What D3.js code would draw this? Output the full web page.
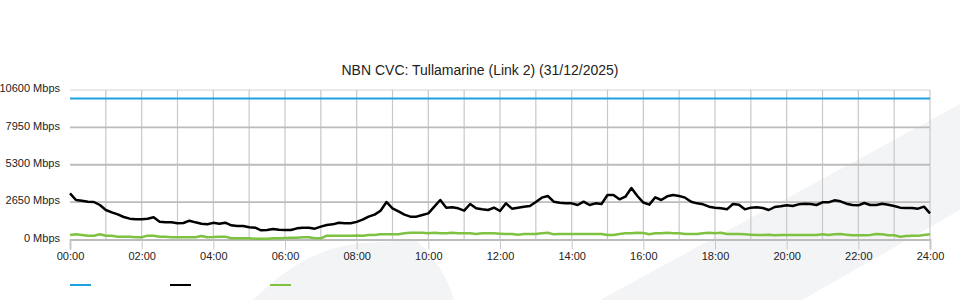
<!DOCTYPE html>
<html>
<head>
<meta charset="utf-8">
<script src="https://cdn.jsdelivr.net/npm/d3@7"></script>
<style>
    body { margin: 0; background: #fff; }
    text { font-family: "Liberation Sans", Arial, sans-serif; fill: #222; }
</style>
</head>
<body>
<div id="chart"></div>
<script>
////////////////////////////////////
//////////////data//////////////////
////////////////////////////////////
const title = 'NBN CVC: Tullamarine (Link 2) (31/12/2025)'

// minutes since midnight, every 10 minutes
const minutes = d3.range(0, 1441, 10)

// link capacity (blue)
const capacityMbps = 10000

// traffic (black), Mbps
const traffic = [
    3273, 2800, 2753, 2682, 2659, 2446, 2092, 1926, 1784, 1595, 1477, 1430, 1430, 1477, 1572, 1264, 1217, 1217, 1146, 1170, 1335, 1217, 1122, 1075, 1180,
    1122, 1193, 1004, 957, 957, 863, 839, 650, 674, 744, 697, 674, 674, 792, 839, 839, 768, 910, 1028, 1075, 1193, 1146, 1146, 1250,
    1406, 1619, 1761, 2044, 2659, 2210, 1997, 1761, 1619, 1619, 1737, 1855, 2328, 2800, 2257, 2281, 2210, 2044, 2517, 2210, 2139, 2092, 2257, 2020,
    2564, 2186, 2257, 2328, 2375, 2659, 2966, 3084, 2682, 2611, 2564, 2564, 2446, 2682, 2446, 2564, 2517, 3155, 3155, 2848, 3037, 3651, 3084, 2620,
    2470, 2990, 2800, 3061, 3155, 3084, 2966, 2682, 2564, 2493, 2328, 2257, 2210, 2139, 2517, 2470, 2139, 2257, 2281, 2233, 2092, 2304, 2352, 2423,
    2375, 2493, 2541, 2517, 2446, 2635, 2635, 2777, 2706, 2541, 2446, 2423, 2588, 2450, 2446, 2541, 2470, 2375, 2257, 2233, 2233, 2186, 2328, 1855
]

// second series (green), Mbps
const other = [
    320, 366, 319, 272, 272, 366, 272, 272, 201, 201, 201, 154, 154, 272, 272, 201, 201, 154, 154, 154, 154, 154, 248, 154, 170,
    201, 201, 83, 83, 83, 83, 59, 59, 59, 83, 83, 106, 130, 130, 154, 154, 83, 83, 272, 272, 272, 272, 272, 280,
    272, 319, 319, 366, 366, 366, 366, 437, 484, 484, 484, 437, 484, 437, 437, 484, 437, 437, 437, 390, 437, 437, 437, 410,
    390, 390, 343, 390, 390, 390, 437, 484, 366, 390, 390, 390, 390, 390, 390, 390, 390, 319, 319, 390, 437, 437, 484, 460,
    366, 437, 437, 484, 437, 437, 390, 390, 390, 437, 484, 437, 484, 390, 390, 390, 366, 343, 319, 319, 343, 296, 319, 319,
    319, 319, 319, 319, 319, 366, 319, 366, 390, 343, 296, 296, 296, 319, 390, 366, 296, 296, 201, 248, 272, 272, 319, 366
]

const yTicks = [0, 2650, 5300, 7950, 10600]
const xTicks = d3.range(0, 1441, 120)   // labelled every 2 hours
const hourGrid = d3.range(60, 1441, 60)  // grid every hour

const colors = { capacity: '#1fa1df', traffic: '#000000', other: '#7fc241' }

////////////////////////////////////
//////////////setup/////////////////
////////////////////////////////////
const svgWidth = 960
const svgHeight = 300

const margin = { left: 70, right: 30, top: 90, bottom: 60.5 }
const width = svgWidth - margin.left - margin.right
const height = svgHeight - margin.top - margin.bottom

const svg = d3.select('#chart')
    .append('svg')
    .attr('width', svgWidth)
    .attr('height', svgHeight)

// faint background watermark shapes
svg.append('path')
    .attr('d', 'M600,300 L960,104 L960,210 L802,300 Z')
    .attr('fill', '#f3f4f6')
svg.append('path')
    .attr('d', 'M253,300 C285,268 320,246 365,243 L416,240 C432,256 446,272 454,300 Z')
    .attr('fill', '#f3f4f6')

svg.append('text')
    .attr('x', svgWidth / 2)
    .attr('y', 75)
    .attr('text-anchor', 'middle')
    .style('font-size', '14px')
    .text(title)

const g = svg.append('g')
    .attr('transform', `translate(${margin.left},${margin.top})`)

////////////////////////////////////
//////////////scales////////////////
////////////////////////////////////
const xScale = d3.scaleLinear()
    .domain([0, 1440])
    .range([0, width])

const yScale = d3.scaleLinear()
    .domain([0, 10600])
    .range([height, 0])

////////////////////////////////////
//////////////grid//////////////////
////////////////////////////////////
g.append('line')
    .attr('x1', 0).attr('x2', width)
    .attr('y1', 0).attr('y2', 0)
    .attr('stroke', '#d4d4d4')
    .attr('stroke-width', 1)

g.selectAll('.vgrid')
    .data(hourGrid)
    .join('line')
    .attr('class', 'vgrid')
    .attr('x1', d => xScale(d)).attr('x2', d => xScale(d))
    .attr('y1', 0).attr('y2', height)
    .attr('stroke', '#c8c8c8')
    .attr('stroke-width', 1.2)

g.selectAll('.hgrid')
    .data(yTicks.slice(1, -1))
    .join('line')
    .attr('class', 'hgrid')
    .attr('x1', 0).attr('x2', width)
    .attr('y1', d => yScale(d)).attr('y2', d => yScale(d))
    .attr('stroke', '#bcbcbc')
    .attr('stroke-width', 1.8)

////////////////////////////////////
//////////////axes//////////////////
////////////////////////////////////
const xAxis = d3.axisBottom(xScale)
    .tickValues(xTicks)
    .tickSize(10)
    .tickPadding(3)
    .tickFormat(d => String(d / 60).padStart(2, '0') + ':00')

const xg = g.append('g')
    .attr('transform', `translate(0,${height})`)
    .call(xAxis)
xg.select('.domain').attr('stroke', '#bcbcbc').attr('stroke-width', 1.8)
xg.selectAll('.tick line').attr('stroke', '#c8c8c8')
xg.selectAll('.tick text')
    .attr('dy', '0.65em')
    .style('font-size', '11px')
    .style('font-family', '"Liberation Sans", Arial, sans-serif')
    .attr('fill', '#222')

const yAxis = d3.axisLeft(yScale)
    .tickValues(yTicks)
    .tickSize(0)
    .tickPadding(10)
    .tickFormat(d => d + ' Mbps')

const yg = g.append('g').call(yAxis)
yg.select('.domain').remove()
yg.selectAll('.tick text')
    .attr('dy', '0.15em')
    .style('font-size', '11px')
    .style('font-family', '"Liberation Sans", Arial, sans-serif')
    .attr('fill', '#222')

////////////////////////////////////
//////////////lines/////////////////
////////////////////////////////////
const line = d3.line()
    .x(d => xScale(d.t))
    .y(d => yScale(d.v))

const series = [
    { key: 'capacity', values: minutes.map(t => ({ t: t, v: capacityMbps })) },
    { key: 'other', values: minutes.map((t, i) => ({ t: t, v: other[i] })) },
    { key: 'traffic', values: minutes.map((t, i) => ({ t: t, v: traffic[i] })) }
]

g.selectAll('.series')
    .data(series)
    .join('path')
    .attr('class', 'series')
    .attr('d', d => line(d.values))
    .attr('fill', 'none')
    .attr('stroke', d => colors[d.key])
    .attr('stroke-width', d => d.key == 'capacity' ? 2 : 2.5)
    .attr('stroke-linejoin', 'round')

////////////////////////////////////
//////////////legend////////////////
////////////////////////////////////
const legendKeys = ['capacity', 'traffic', 'other']

svg.selectAll('.legend')
    .data(legendKeys)
    .join('line')
    .attr('class', 'legend')
    .attr('x1', (d, i) => 70 + i * 100)
    .attr('x2', (d, i) => 91 + i * 100)
    .attr('y1', 285).attr('y2', 285)
    .attr('stroke', d => colors[d])
    .attr('stroke-width', 2)
</script>
</body>
</html>
